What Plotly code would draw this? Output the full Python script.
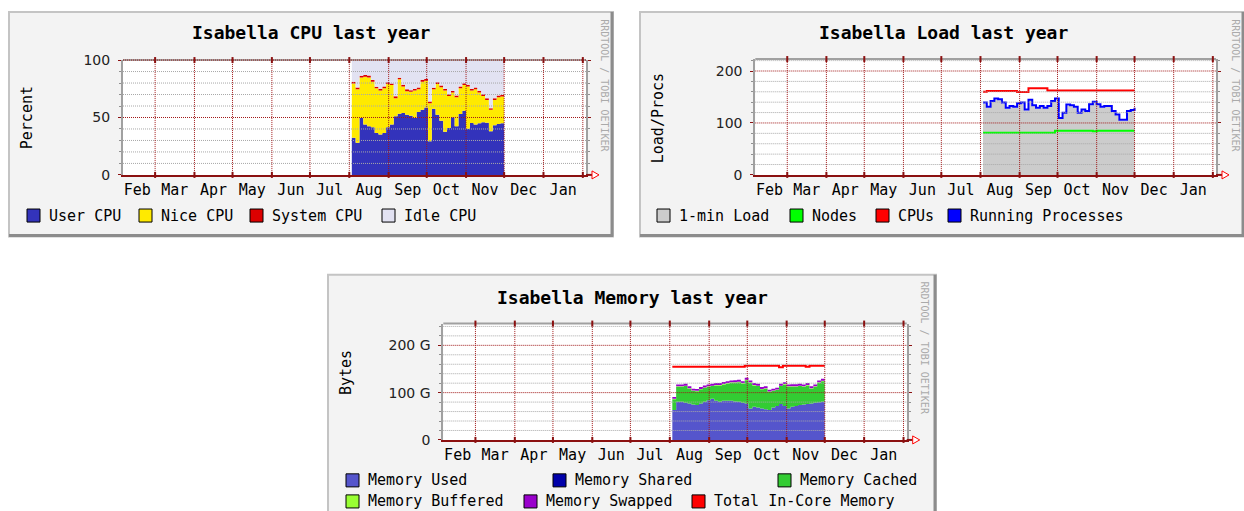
import plotly.graph_objects as go

# ---------------- data ----------------
MONTH_NAMES = ["Feb", "Mar", "Apr", "May", "Jun", "Jul", "Aug", "Sep", "Oct", "Nov", "Dec", "Jan"]
# day offsets (from 1 March) of the start of each labelled month, plus the following February
MONTH_STARTS = [-28, 0, 31, 61, 92, 122, 153, 184, 214, 245, 275, 306, 337]

# sample days (offset from 1 March) of the year-view consolidated data
DAYS = [155, 158, 161, 164, 167, 170, 173, 176, 179, 182, 185, 188, 191, 194, 197, 200, 203,
        206, 209, 212, 215, 218, 221, 224, 227, 230, 233, 236, 239, 242, 245, 248, 251, 254,
        257, 260, 263, 266, 269, 272, 275]

CPU_USER = [32.3, 27.9, 49.6, 43.8, 42.4, 41.5, 36.6, 35.1, 36.6, 41.5, 43.8, 51.0, 53.3, 53.9,
            52.4, 51.6, 49.6, 54.7, 56.8, 58.8, 29.4, 57.6, 52.4, 47.2, 37.5, 40.9, 50.1, 42.4,
            53.0, 55.9, 40.3, 45.2, 43.8, 44.9, 45.8, 45.5, 38.0, 43.2, 44.4, 44.9, 44.4]
CPU_NICE = [47.4, 46.7, 35.3, 41.7, 42.5, 39.7, 38.8, 38.3, 38.8, 37.7, 34.5, 15.8, 29.9, 23.0,
            20.4, 20.7, 23.8, 19.9, 24.4, 23.2, 33.1, 17.0, 26.8, 29.1, 35.9, 27.9, 21.6, 25.2,
            22.4, 22.4, 36.6, 28.2, 30.8, 26.8, 23.0, 19.8, 18.7, 22.1, 23.2, 23.3, 30.2]
CPU_SYSTEM = [1.5, 1.6, 1.4, 1.5, 1.7, 1.5, 1.4, 1.6, 1.5, 1.5, 1.4, 1.6, 1.5, 1.5, 1.7, 1.5,
              1.4, 1.5, 1.6, 1.5, 1.5, 1.4, 1.5, 1.6, 1.5, 1.5, 1.4, 1.5, 1.6, 1.5, 1.5, 1.4,
              1.5, 1.6, 1.5, 1.5, 1.4, 1.5, 1.6, 1.5, 1.5]
CPU_IDLE = [18.8, 23.9, 13.6, 13.0, 13.6, 17.3, 23.1, 25.1, 23.1, 19.3, 20.2, 31.7, 15.3, 21.6,
            25.7, 26.2, 25.1, 23.9, 17.3, 16.5, 36.0, 23.9, 19.3, 22.2, 25.1, 29.7, 26.8, 30.9,
            23.1, 20.2, 21.6, 25.1, 23.9, 26.8, 29.7, 33.2, 41.8, 33.2, 30.9, 30.3, 23.9]

LOAD_ONE = [137.2, 129.4, 140.5, 145.1, 143.8, 137.2, 127.4, 130.7, 129.4, 135.9, 137.2, 124.1,
            142.5, 132.0, 127.4, 130.7, 127.4, 130.7, 140.5, 145.1, 107.7, 117.5, 133.3, 132.0,
            129.4, 117.5, 124.1, 120.8, 134.0, 138.6, 134.0, 129.4, 130.7, 130.7, 120.8, 114.3,
            104.4, 104.4, 120.8, 122.8, 127.4]
LOAD_NODES = [81, 81, 81, 81, 81, 81, 81, 81, 81, 81, 81, 81, 81, 81, 81, 81, 81, 81, 81,
              85, 85, 85, 85, 85, 85, 85, 85, 85, 85, 84, 85, 85, 85, 85, 85, 85, 85, 85, 85, 85, 85]
LOAD_CPUS = [160, 161.6, 161.6, 161.6, 161.6, 161.6, 161.6, 161.6, 161.6, 159.5, 159.5, 159.5,
             167, 167, 167, 167, 167, 162.5, 162.5, 162.5, 162.5, 162.5, 162.5, 162.5, 162.5,
             162.5, 162.5, 162.5, 162.5, 162.5, 162.5, 162.5, 162.5, 162.5, 162.5, 162.5, 162.5,
             162.5, 162.5, 162.5, 162.5]
LOAD_PROCS = [139.2, 131.4, 142.5, 147.1, 145.8, 139.2, 129.4, 132.7, 131.4, 137.9, 139.2, 126.1,
              144.5, 134.0, 129.4, 132.7, 129.4, 132.7, 142.5, 147.1, 109.7, 119.5, 135.3, 134.0,
              131.4, 119.5, 126.1, 122.8, 136.0, 140.6, 136.0, 131.4, 132.7, 132.7, 122.8, 116.3,
              106.4, 106.4, 122.8, 124.8, 129.4]

MEM_USED = [63.3, 80.6, 80.6, 78.5, 77.2, 75.1, 73.7, 77.2, 80.6, 84.1, 86.9, 82.7, 80.6, 82.7,
            82.7, 82.7, 81.3, 80.6, 78.5, 77.2, 66.7, 70.2, 68.8, 66.7, 64.7, 63.3, 68.8, 71.6,
            75.8, 71.6, 66.7, 70.2, 71.6, 73.7, 75.1, 75.8, 77.2, 78.5, 79.9, 80.6, 78.5]
MEM_SHARED = [0] * 41
MEM_CACHED = [22.7, 31.8, 31.8, 35.3, 31.1, 28.3, 29.0, 29.7, 29.1, 28.3, 26.9, 32.5, 34.6, 34.6,
              36.7, 38.1, 39.5, 41.6, 40.9, 49.1, 54.1, 45.0, 45.0, 40.2, 43.6, 38.0, 34.6, 33.9,
              38.0, 45.7, 45.7, 42.2, 40.8, 40.1, 37.3, 39.4, 31.1, 33.9, 40.9, 43.7, 40.9]
MEM_BUFFERED = [0.8, 1.0, 1.1, 1.0, 0.9, 1.0, 1.1, 1.0, 1.0, 0.9, 1.0, 1.1, 1.0, 1.0, 0.9, 1.0,
                1.1, 1.0, 1.0, 0.9, 1.0, 1.1, 1.0, 1.0, 0.9, 1.0, 1.1, 1.0, 1.0, 0.9, 1.0, 1.1,
                1.0, 1.0, 0.9, 1.0, 1.1, 1.0, 1.0, 0.9, 1.0]
MEM_SWAPPED = [4.2, 4.0, 3.8, 4.0, 4.1, 4.0, 3.9, 4.0, 4.2, 4.0, 3.8, 4.0, 4.1, 4.0, 3.9, 4.0,
               4.2, 4.0, 3.8, 4.0, 4.1, 4.0, 3.9, 4.0, 4.2, 4.0, 3.8, 4.0, 4.1, 4.0, 3.9, 4.0,
               4.2, 4.0, 3.8, 4.0, 4.1, 4.0, 3.9, 4.0, 4.2]
MEM_TOTAL = [154.9, 154.9, 154.9, 154.9, 154.9, 154.9, 154.9, 154.9, 154.9, 154.9, 154.9, 154.9,
             154.9, 154.9, 154.9, 154.9, 154.9, 154.9, 154.9, 157.0, 157.0, 157.0, 157.0, 157.0,
             157.0, 157.0, 157.0, 157.0, 153.5, 157.0, 157.0, 157.0, 157.0, 157.0, 157.0, 154.5,
             157.0, 157.0, 157.0, 157.0, 157.0]

# ---------------- styling ----------------
W, H = 1244, 511
# vertical calibration of the photographed page (target px -> layout px)
Y_OFF, Y_SCALE = 8.1, 0.9657
XMIN, XMAX = -25.3, 339.5
MONO = "DejaVu Sans Mono"
SANS = "DejaVu Sans"
AXIS_RED = "#8b1010"
MAJOR_GRID = "#a01818"
MINOR_GRID = "#a8a8a8"
FRAME_GRAY = "#a0a0a0"
DOT = "1px,1px"

PANELS = [
    dict(key="", title="Isabella CPU last year", ylabel="Percent",
         box=(9, 12, 613, 236), plot=(123, 60, 586, 174.5), ytop=100,
         major=[0, 50, 100], majortext=["0", "50", "100"],
         minor=[10, 20, 30, 40, 60, 70, 80, 90],
         title_xy=(311, 33), ylabel_xy=(27, 118), credit_xy=(605, 85)),
    dict(key="2", title="Isabella Load last year", ylabel="Load/Procs",
         box=(640, 12, 1244, 236), plot=(755.3, 59, 1216, 174.5), ytop=223,
         major=[0, 100, 200], majortext=["0", "100", "200"],
         minor=[20, 40, 60, 80, 120, 140, 160, 180, 220],
         title_xy=(943, 33), ylabel_xy=(658, 118), credit_xy=(1236, 85)),
    dict(key="3", title="Isabella Memory last year", ylabel="Bytes",
         box=(328, 274, 936, 515), plot=(443.3, 322.7, 906.7, 438.7), ytop=246,
         major=[0, 100, 200], majortext=["0", "100 G", "200 G"],
         minor=[20, 40, 60, 80, 120, 140, 160, 180, 220, 240],
         title_xy=(632, 297), ylabel_xy=(346, 372), credit_xy=(924.5, 347)),
]

LEGENDS = [
    # (square left px, centre y px, label, colour)
    (27, 215, "User CPU", "#3333bb"), (139, 215, "Nice CPU", "#ffea00"),
    (250, 215, "System CPU", "#dd0000"), (382, 215, "Idle CPU", "#e2e2f2"),
    (657, 215, "1-min Load", "#cccccc"), (790, 215, "Nodes", "#00ff00"),
    (876, 215, "CPUs", "#ff0000"), (948, 215, "Running Processes", "#0000ff"),
    (346, 479, "Memory Used", "#5555cc"), (553, 479, "Memory Shared", "#0000aa"),
    (778, 479, "Memory Cached", "#33cc33"), (346, 500, "Memory Buffered", "#99ff33"),
    (524, 500, "Memory Swapped", "#9900cc"), (692, 500, "Total In-Core Memory", "#ff0000"),
]

fig = go.Figure()


def area(x, y, name, color, group, xa, ya):
    fig.add_trace(go.Scatter(x=x, y=y, name=name, mode="lines", stackgroup=group,
                             line=dict(width=0, shape="hv"), fillcolor=color,
                             xaxis=xa, yaxis=ya, hoverinfo="skip", showlegend=False))


def line(x, y, name, color, xa, ya):
    fig.add_trace(go.Scatter(x=x, y=y, name=name, mode="lines",
                             line=dict(width=2, color=color, shape="hv"),
                             xaxis=xa, yaxis=ya, hoverinfo="skip", showlegend=False))


# CPU
area(DAYS, CPU_USER, "User CPU", "#3333bb", "cpu", "x", "y")
area(DAYS, CPU_NICE, "Nice CPU", "#ffea00", "cpu", "x", "y")
area(DAYS, CPU_SYSTEM, "System CPU", "#dd0000", "cpu", "x", "y")
area(DAYS, CPU_IDLE, "Idle CPU", "#e2e2f2", "cpu", "x", "y")
# Load
fig.add_trace(go.Scatter(x=DAYS, y=LOAD_ONE, name="1-min Load", mode="lines", fill="tozeroy",
                         fillcolor="#cccccc", line=dict(width=0, shape="hv"),
                         xaxis="x2", yaxis="y2", hoverinfo="skip", showlegend=False))
line(DAYS, LOAD_NODES, "Nodes", "#00ff00", "x2", "y2")
line(DAYS, LOAD_CPUS, "CPUs", "#ff0000", "x2", "y2")
line(DAYS, LOAD_PROCS, "Running Processes", "#0000ff", "x2", "y2")
# Memory
area(DAYS, MEM_USED, "Memory Used", "#5555cc", "mem", "x3", "y3")
area(DAYS, MEM_SHARED, "Memory Shared", "#0000aa", "mem", "x3", "y3")
area(DAYS, MEM_CACHED, "Memory Cached", "#33cc33", "mem", "x3", "y3")
area(DAYS, MEM_BUFFERED, "Memory Buffered", "#99ff33", "mem", "x3", "y3")
area(DAYS, MEM_SWAPPED, "Memory Swapped", "#9900cc", "mem", "x3", "y3")
line(DAYS, MEM_TOTAL, "Total In-Core Memory", "#ff0000", "x3", "y3")

label_pos = [(MONTH_STARTS[i] + MONTH_STARTS[i + 1]) / 2 for i in range(len(MONTH_NAMES))]
grid_months = [m for m in MONTH_STARTS if XMIN < m < XMAX]

shapes = []
annotations = []


def px_x(p):
    return p / W


def px_y(p):
    return 1 - ((p - Y_OFF) / Y_SCALE) / H


def dom_x(v):
    return (v - XMIN) / (XMAX - XMIN)


for P in PANELS:
    k = P["key"]
    xa, ya = "x" + k, "y" + k
    x0p, y0p, x1p, y1p = P["plot"]
    # axes
    fig.update_layout(**{
        "xaxis" + k: dict(domain=[px_x(x0p), px_x(x1p)], range=[XMIN, XMAX], anchor=ya,
                          showgrid=False, zeroline=False, showline=True, linecolor=AXIS_RED,
                          linewidth=2, tickmode="array", tickvals=label_pos,
                          ticktext=MONTH_NAMES, ticks="", fixedrange=True,
                          tickfont=dict(family=MONO, size=15, color="#000")),
        "yaxis" + k: dict(domain=[px_y(y1p), px_y(y0p)], range=[0, P["ytop"]], anchor=xa,
                          showgrid=False, zeroline=False, showline=True, linecolor=FRAME_GRAY,
                          linewidth=2, mirror="ticks", ticks="outside", ticklen=3,
                          tickcolor=AXIS_RED, tickwidth=1, tickmode="array",
                          tickvals=P["major"], ticktext=P["majortext"], fixedrange=True,
                          ticklabelstandoff=5,
                          tickfont=dict(family=SANS, size=14, color="#222"),
                          minor=dict(tickmode="array", tickvals=P["minor"], ticks="outside",
                                     ticklen=2, tickcolor="#909090", tickwidth=1,
                                     showgrid=False)),
    })
    # panel canvas
    bx0, by0, bx1, by1 = P["box"]
    shapes.append(dict(type="rect", xref="paper", yref="paper", layer="below",
                       x0=px_x(bx0), x1=px_x(bx1), y0=px_y(by1), y1=px_y(by0),
                       fillcolor="#f3f3f3", line=dict(color="#c4c4c4", width=2)))
    shapes.append(dict(type="line", xref="paper", yref="paper", layer="below",
                       x0=px_x(bx0), x1=px_x(bx1), y0=px_y(by1 - 1), y1=px_y(by1 - 1),
                       line=dict(color="#8c8c8c", width=3)))
    shapes.append(dict(type="line", xref="paper", yref="paper", layer="below",
                       x0=px_x(bx1 - 1), x1=px_x(bx1 - 1), y0=px_y(by1), y1=px_y(by0),
                       line=dict(color="#8c8c8c", width=3)))
    # white plotting area
    shapes.append(dict(type="rect", xref="paper", yref="paper", layer="below",
                       x0=px_x(x0p), x1=px_x(x1p), y0=px_y(y1p), y1=px_y(y0p),
                       fillcolor="#ffffff", line=dict(width=0)))
    xd, yd = xa + " domain", ya + " domain"
    # top frame
    shapes.append(dict(type="line", xref=xd, yref=yd, layer="above", x0=0, x1=1, y0=1, y1=1,
                       line=dict(color=FRAME_GRAY, width=2)))
    # minor horizontal grid
    for v in P["minor"]:
        shapes.append(dict(type="line", xref=xd, yref=yd, layer="above", x0=0, x1=1,
                           y0=v / P["ytop"], y1=v / P["ytop"],
                           line=dict(color=MINOR_GRID, width=1, dash=DOT)))
    # major horizontal grid
    for v in P["major"][1:]:
        shapes.append(dict(type="line", xref=xd, yref=yd, layer="above", x0=0, x1=1,
                           y0=v / P["ytop"], y1=v / P["ytop"],
                           line=dict(color=MAJOR_GRID, width=1, dash=DOT)))
    # vertical month grid + tick stubs
    for m in grid_months:
        shapes.append(dict(type="line", xref=xd, yref=yd, layer="above",
                           x0=dom_x(m), x1=dom_x(m), y0=0, y1=1,
                           line=dict(color=MAJOR_GRID, width=1, dash=DOT)))
        for anc in (0, 1):
            shapes.append(dict(type="line", xref=xd, yref=yd, layer="above",
                               ysizemode="pixel", yanchor=anc, y0=-3, y1=3,
                               x0=dom_x(m), x1=dom_x(m),
                               line=dict(color=AXIS_RED, width=2)))
    # axis extension and arrow
    shapes.append(dict(type="path", xref=xd, yref=yd, layer="above",
                       xsizemode="pixel", xanchor=1, ysizemode="pixel", yanchor=0,
                       path="M 0,0 L 6,0", line=dict(color=AXIS_RED, width=2)))
    shapes.append(dict(type="path", xref=xd, yref=yd, layer="above",
                       xsizemode="pixel", xanchor=1, ysizemode="pixel", yanchor=0,
                       path="M 6,-4 L 13,0 L 6,4 Z", fillcolor="#ffffff",
                       line=dict(color="#ff0000", width=1)))
    # texts
    tx, ty = P["title_xy"]
    annotations.append(dict(text=P["title"], x=px_x(tx), y=px_y(ty), xref="paper",
                            yref="paper", showarrow=False, xanchor="center", yanchor="middle",
                            font=dict(family=MONO, size=18, color="#000", weight="bold")))
    lx, ly = P["ylabel_xy"]
    annotations.append(dict(text=P["ylabel"], x=px_x(lx), y=px_y(ly), xref="paper",
                            yref="paper", showarrow=False, xanchor="center", yanchor="middle",
                            textangle=-90, font=dict(family=MONO, size=15, color="#000")))
    cx, cy = P["credit_xy"]
    annotations.append(dict(text="RRDTOOL / TOBI OETIKER", x=px_x(cx), y=px_y(cy),
                            xref="paper", yref="paper", showarrow=False, xanchor="center",
                            yanchor="middle", textangle=90,
                            font=dict(family=MONO, size=10, color="#aaaaaa")))

# legends
for sx, cy, label, col in LEGENDS:
    shapes.append(dict(type="rect", xref="paper", yref="paper", layer="above",
                       x0=px_x(sx), x1=px_x(sx + 13), y0=px_y(cy + 6.5), y1=px_y(cy - 6.5),
                       fillcolor=col, line=dict(color="#000", width=1)))
    annotations.append(dict(text=label, x=px_x(sx + 20), y=px_y(cy), xref="paper",
                            yref="paper", showarrow=False, xanchor="left", yanchor="middle",
                            font=dict(family=MONO, size=15, color="#000")))

fig.update_layout(width=W, height=H, autosize=False, margin=dict(l=0, r=0, t=0, b=0),
                  paper_bgcolor="#ffffff", plot_bgcolor="rgba(0,0,0,0)",
                  showlegend=False, shapes=shapes, annotations=annotations,
                  hovermode=False)

fig.write_html(
    "out.html",
    config={"displayModeBar": False, "responsive": False},
    post_script=(
        "document.documentElement.style.margin='0';"
        "document.documentElement.style.overflow='hidden';"
        "document.body.style.margin='0';document.body.style.padding='0';"
        "document.body.style.overflow='hidden';"
        "var d=document.getElementById('{plot_id}');"
        "d.style.position='fixed';d.style.left='0px';d.style.top='0px';"
    ),
)
